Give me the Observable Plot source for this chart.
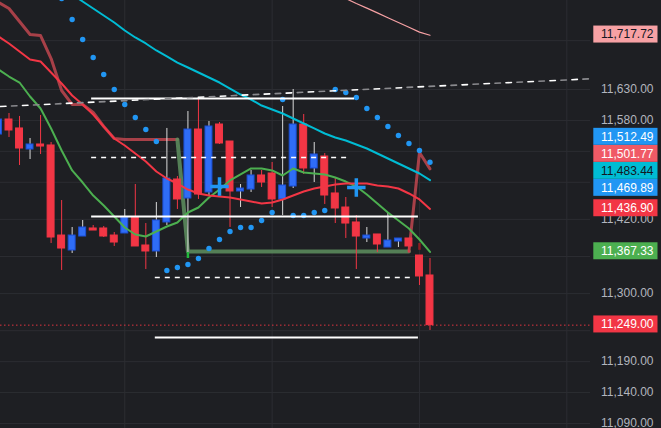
<!DOCTYPE html>
<html><head><meta charset="utf-8">
<script src="https://cdn.jsdelivr.net/npm/d3@7"></script>
<script src="https://cdn.jsdelivr.net/npm/@observablehq/plot@0.6"></script>
<style>html,body{margin:0;padding:0;background:#1e1f23;overflow:hidden}</style>
</head><body><div id="chart"></div>
<script>
// ---- data ----
const barIdx = d3.range(-1, 41);
const opens  = [11557.2,11581.5,11567.0,11533.0,11541.1,11539.5,11393.9,11369.7,11392.3,11405.3,11405.3,11393.9,11397.2,11423.0,11377.8,11368.1,11415.0,11484.5,11453.8,11565.3,11463.5,11573.4,11545.9,11465.1,11468.3,11491.0,11494.2,11452.2,11473.2,11573.4,11502.3,11521.7,11461.9,11439.2,11415.0,11389.1,11395.6,11374.5,11384.2,11389.1,11361.6,11329.3];
const highs  = [11584.7,11591.2,11586.4,11550.8,11588.0,11544.3,11450.5,11406.9,11418.2,11410.1,11408.5,11398.8,11436.0,11476.4,11413.3,11447.3,11567.0,11489.3,11594.4,11613.8,11578.3,11576.6,11545.9,11476.4,11499.1,11499.1,11512.0,11602.5,11630.0,11589.6,11544.3,11526.5,11486.1,11455.4,11426.3,11406.9,11395.6,11431.1,11389.1,11389.1,11361.6,11356.8];
const lows   = [11554.0,11552.4,11507.1,11516.8,11524.9,11381.0,11337.4,11364.9,11392.3,11402.0,11390.7,11376.2,11397.2,11376.2,11339.0,11358.4,11410.1,11436.0,11358.4,11452.2,11457.0,11541.1,11406.9,11439.2,11463.5,11471.6,11439.2,11426.3,11469.9,11492.6,11479.6,11444.1,11413.3,11389.1,11339.0,11382.6,11366.5,11374.5,11374.5,11366.5,11313.1,11240.4];
const closes = [11581.5,11563.7,11534.6,11541.1,11537.8,11390.7,11372.9,11393.9,11406.9,11402.0,11392.3,11382.6,11423.0,11376.2,11368.1,11418.2,11486.1,11452.2,11565.3,11460.2,11570.2,11542.7,11465.1,11469.9,11491.0,11479.6,11452.2,11474.8,11573.4,11502.3,11524.9,11458.6,11437.6,11413.3,11392.3,11393.9,11379.4,11385.8,11389.1,11376.2,11327.7,11249.0];

// moving averages (index -1..40), null = off-chart/absent
const cyanMA = [null,null,null,null,null,null,null,11783.6,11772.3,11761.0,11749.7,11738.3,11725.4,11714.1,11704.4,11693.1,11683.4,11673.6,11665.6,11657.5,11649.4,11641.3,11631.6,11621.9,11613.8,11604.1,11597.7,11591.2,11583.1,11575.0,11567.0,11558.9,11552.4,11547.5,11541.1,11534.6,11526.5,11518.4,11510.4,11502.3,11494.2,11483.44];
const redMA  = [11715.7,11704.4,11691.4,11678.5,11675.3,11657.5,11639.7,11620.3,11605.8,11589.6,11570.2,11550.8,11539.4,11526.5,11513.6,11497.4,11486.1,11478.0,11468.3,11461.9,11458.6,11457.0,11455.4,11452.2,11448.9,11445.7,11447.3,11452.2,11458.6,11465.1,11469.9,11473.2,11476.4,11478.0,11478.0,11478.0,11474.8,11473.2,11469.9,11461.9,11452.2,11436.90];
const greenMA= [11662.3,11651.0,11641.3,11618.7,11599.3,11566.9,11531.4,11499.1,11479.6,11458.6,11442.5,11424.7,11406.9,11395.6,11392.3,11400.4,11408.5,11415.0,11431.1,11439.2,11455.4,11468.3,11482.9,11492.6,11502.3,11502.3,11499.1,11491.0,11502.3,11495.8,11494.2,11492.6,11487.7,11481.2,11473.2,11460.2,11445.7,11431.1,11418.2,11405.3,11387.5,11367.33];
const pinkMA = [null,null,null,null,null,null,null,null,null,null,null,null,null,null,null,null,null,null,null,null,null,null,null,null,null,null,null,null,null,null,null,null,null,11777.1,11769.0,11761.6,11753.9,11746.1,11738.3,11730.6,11722.8,11717.72];
// stepped trailing stop line and its direction
const stepLine  = [11770.7,11761.0,11739.9,11718.9,11717.3,11680.1,11628.4,11605.8,11605.8,11592.8,11570.2,11550.8,11549.2,11549.2,11549.2,11549.2,11549.2,11549.2,11368.1,11368.1,11368.1,11368.1,11368.1,11368.1,11368.1,11368.1,11368.1,11368.1,11368.1,11368.1,11368.1,11368.1,11368.1,11368.1,11368.1,11368.1,11368.1,11368.1,11368.1,11368.1,11528.1,11501.77];
const stepTrend = ["bear","bear","bear","bear","bear","bear","bear","bear","bear","bear","bear","bear","bear","bear","bear","bear","bear","bear","bull","bull","bull","bull","bull","bull","bull","bull","bull","bull","bull","bull","bull","bull","bull","bull","bull","bull","bull","bull","bull","bull","bear","bear"];
// parabolic SAR
const sarBars = d3.range(5, 41);
const sarVals = [11777.1,11743.2,11710.8,11681.7,11654.3,11630.0,11605.8,11584.7,11565.3,11545.9,11337.4,11342.2,11347.1,11356.8,11372.9,11387.5,11400.4,11406.9,11406.9,11418.2,11431.1,11613.8,11426.3,11426.3,11431.1,11434.4,11630.0,11625.2,11617.1,11599.3,11584.7,11570.2,11555.6,11542.7,11531.4,11512.49];
// cross markers
const crossBars = [20, 33];
const crossVals = [11473.2, 11471.6];
// small signal ticks
const signalBars = [17, 39];
const signalTop = [11366.5, 11381.0];
const signalBottom = [11356.8, 11370.0];
const signalColors = ["#22b83c", "#8e1d22"];
// drawings
const solidLevelPrices = [11615.4, 11424.7, 11229.0];
const solidLevelFrom = [7.85, 7.85, 13.9];
const solidLevelTo = [32.83, 38.9, 38.9];
const dashLevelPrices = [11520.1, 11326.0];
const dashLevelFrom = [7.85, 13.9];
const dashLevelTo = [32.45, 38.6];
const trendPrices = [11602.5, 11647.3];
// axis: grid levels, and the tick labels left visible by the price labels
const gridPrices = [11709, 11630, 11580, 11530, 11480, 11420, 11360, 11300, 11240, 11190, 11140, 11090];
const tickLabelPrices = [11630, 11580, 11420, 11300, 11190, 11140, 11090];
const gridBars = [11, 25, 39, 53];
const labelValues = [11717.72, 11512.49, 11501.77, 11483.44, 11469.89, 11436.90, 11367.33, 11249.00];
const labelFills  = ["#f7a1a4", "#2196f3", "#f05a66", "#00bcd4", "#2196f3", "#f23645", "#4caf50", "#f23645"];
const labelInk    = ["#131722", "#ffffff", "#ffffff", "#131722", "#ffffff", "#ffffff", "#ffffff", "#ffffff"];

// ---- layout ----
const W = 661, H = 428;
const barStep = 10.525, firstBarX = 8.5, paneRight = 590;
const xDomain = [-firstBarX / barStep, (W - firstBarX) / barStep];
const pxPerUnit = 0.6185, yTop = 11773.9;
const yDomain = [yTop - H / pxPerUnit, yTop];
const xs = d3.scaleLinear(xDomain, [0, W]);
const ys = d3.scaleLinear(yDomain, [H, 0]);
const xL = xDomain[0], xR = xs.invert(paneRight);
const fmt = d3.format(",.2f");

const UP = "#2f6df6", UP_EDGE = "#1c4fd6", DN = "#f23645";
const candles = barIdx.map((i, k) => ({i, o: opens[k], h: highs[k], l: lows[k], c: closes[k], up: closes[k] >= opens[k]}));
const series = arr => barIdx.map((i, k) => ({i, v: arr[k]})).filter(d => d.v != null);

// step line segments
const stepPts = [];
let seg = -1, prev = null, prevTrend = null;
barIdx.forEach((i, k) => {
  const t = stepTrend[k];
  if (t !== prevTrend) { seg++; if (prev) stepPts.push({i: prev.i, v: prev.v, seg, t}); }
  const p = {i, v: stepLine[k], seg, t};
  stepPts.push(p); prev = p; prevTrend = t;
});

// price labels stacked so they do not overlap
const order = d3.range(labelValues.length).sort((a, b) => labelValues[a] - labelValues[b]);
const labels = [];
let lastCy = Infinity;
for (const k of order) {
  const cy = Math.min(ys(labelValues[k]), lastCy - 17);
  lastCy = cy;
  labels.push({v: labelValues[k], fill: labelFills[k], ink: labelInk[k],
    yc: ys.invert(cy - 0.7), y1: ys.invert(cy - 9.2), y2: ys.invert(cy + 7.8)});
}
const boxX1 = xs.invert(593.3), boxX2 = xs.invert(657.5);

const chart = Plot.plot({
  width: W, height: H, margin: 0,
  x: {domain: xDomain, axis: null},
  y: {domain: yDomain, axis: null},
  color: {type: "identity"},
  style: {background: "#1e1f23", fontFamily: "'Liberation Sans', Arial, sans-serif", fontSize: "12px"},
  marks: [
    Plot.ruleY(gridPrices, {y: d => d, x1: xL, x2: xR, stroke: "#2c2d32"}),
    Plot.ruleX(gridBars, {x: d => d, stroke: "#2c2d32"}),
    Plot.ruleY([closes[closes.length - 1]], {y: d => d, x1: xL, x2: xR, stroke: "#f23645", strokeDasharray: "1.5,2.5", strokeOpacity: 0.9}),
    // stepped stop line
    Plot.line(stepPts, {x: "i", y: "v", z: "seg", stroke: d => d.t === "bull" ? "#5e905f" : "#c0464f",
      strokeWidth: d => d.t === "bull" ? 4 : 3, strokeOpacity: 0.85, strokeLinejoin: "round", clip: true}),
    // candles
    Plot.ruleX(candles, {x: "i", y1: "l", y2: "h", stroke: d => d.up ? "#d9d9d9" : DN, strokeWidth: 1, clip: true}),
    Plot.rect(candles, {x1: d => d.i - 0.33, x2: d => d.i + 0.33, y1: d => Math.min(d.o, d.c), y2: d => Math.max(d.o, d.c),
      fill: d => d.up ? UP : DN, stroke: d => d.up ? UP_EDGE : DN, strokeWidth: 1, clip: true}),
    // indicators
    Plot.line(series(greenMA), {x: "i", y: "v", stroke: "#4caf50", strokeWidth: 2, clip: true}),
    Plot.line(series(redMA), {x: "i", y: "v", stroke: "#f23645", strokeWidth: 2, clip: true}),
    Plot.line(series(cyanMA), {x: "i", y: "v", stroke: "#00bcd4", strokeWidth: 2, clip: true}),
    Plot.line(series(pinkMA), {x: "i", y: "v", stroke: "#f7a1a4", strokeWidth: 1.2, clip: true}),
    Plot.dot(sarBars.map((i, k) => ({i, v: sarVals[k]})), {x: "i", y: "v", r: 2.7, fill: "#2196f3", clip: true}),
    Plot.dot(crossBars.map((i, k) => ({i, v: crossVals[k]})), {x: "i", y: "v", symbol: "plus", r: 6, stroke: "#2196f3", strokeWidth: 3.5}),
    Plot.ruleX(signalBars.map((i, k) => ({i, a: signalTop[k], b: signalBottom[k], c: signalColors[k]})), {x: "i", y1: "a", y2: "b", stroke: "c", strokeWidth: 2.5}),
    // drawings
    Plot.ruleY(solidLevelPrices.map((v, k) => ({v, a: solidLevelFrom[k], b: solidLevelTo[k]})), {y: "v", x1: "a", x2: "b", stroke: "#ffffff", strokeWidth: 2}),
    Plot.ruleY(dashLevelPrices.map((v, k) => ({v, a: dashLevelFrom[k], b: dashLevelTo[k]})), {y: "v", x1: "a", x2: "b", stroke: "#ffffff", strokeWidth: 1.5, strokeDasharray: "5,5"}),
    Plot.line([{i: xL, v: trendPrices[0]}, {i: xR, v: trendPrices[1]}], {x: "i", y: "v", stroke: "#ffffff", strokeWidth: 1.6, strokeDasharray: "5.5,16.5"}),
    Plot.line([{i: xL, v: trendPrices[0]}, {i: xR, v: trendPrices[1]}], {x: "i", y: "v", stroke: "#8a8a8e", strokeWidth: 1.6, strokeDasharray: "5.5,16.5", strokeDashoffset: -11}),
    // price axis
    Plot.text(tickLabelPrices, {y: d => d, text: d => fmt(d), frameAnchor: "right", textAnchor: "end", dx: -8, fill: "#b2b5be", fontSize: 12}),
    Plot.rect(labels, {x1: boxX1, x2: boxX2, y1: "y1", y2: "y2", fill: "fill"}),
    Plot.text(labels, {y: "yc", text: d => fmt(d.v), frameAnchor: "right", textAnchor: "end", dx: -8, fill: "ink", fontSize: 12})
  ]
});
document.getElementById("chart").appendChild(chart);
</script>
</body></html>
